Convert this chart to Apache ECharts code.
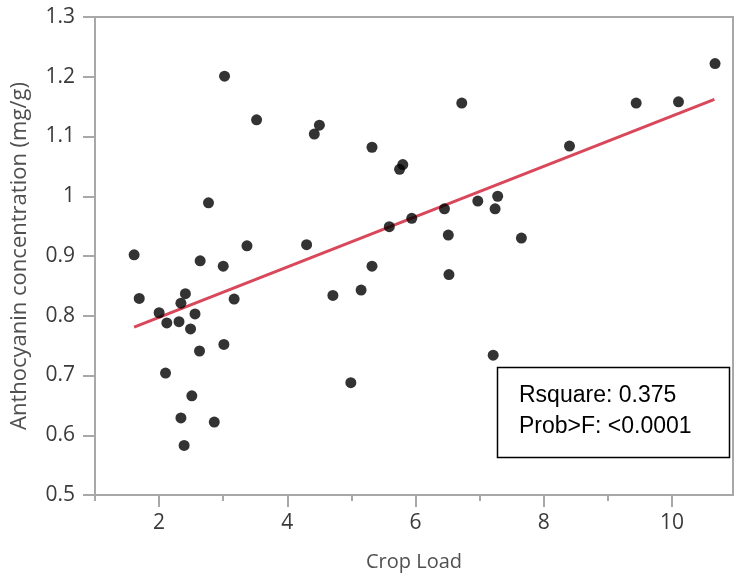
<!DOCTYPE html>
<html>
<head>
<meta charset="utf-8">
<script src="https://cdn.jsdelivr.net/npm/echarts@6/dist/echarts.min.js"></script>
<style>
html,body{margin:0;padding:0;background:#fff;}
#chart{width:734px;height:577px;}
</style>
</head>
<body>
<div id="chart"></div>
<script>
// Crop load (x) and anthocyanin concentration (y)
const cropLoad = [3.02,3.52,4.50,4.42,5.32,5.80,5.75,2.77,5.59,5.94,1.61,3.37,4.30,2.64,
  10.67,9.44,10.10,6.72,8.40,6.45,6.97,7.28,7.24,6.51,7.65,3.00,5.32,1.69,2.41,2.34,3.17,
  4.71,5.15,2.00,2.56,2.12,2.31,2.49,3.01,2.63,2.10,4.99,2.51,2.34,2.86,2.39,6.52,7.21];
const anthocyanin = [1.201,1.128,1.119,1.104,1.082,1.053,1.045,0.989,0.949,0.963,0.902,0.917,0.919,0.892,
  1.222,1.156,1.158,1.156,1.084,0.979,0.992,1.000,0.979,0.935,0.930,0.883,0.883,0.829,0.837,0.821,0.828,
  0.834,0.843,0.805,0.803,0.788,0.790,0.778,0.752,0.741,0.704,0.688,0.666,0.629,0.622,0.583,0.869,0.734];
// Fitted line end points
const fitX = [1.61, 10.66];
const fitY = [0.781, 1.162];
const xMajorTicks = [2, 4, 6, 8, 10];
const xMinorTicks = [1, 3, 5, 7, 9];
const statLines = ['Rsquare: 0.375', 'Prob>F: <0.0001'];

const points = cropLoad.map((x, i) => [x, anthocyanin[i]]);
const fitLine = fitX.map((x, i) => [x, fitY[i]]);

const axisGray = '#a8a8a8';
const labelColor = '#3a3a3a';
const font = 'Open Sans';

const chart = echarts.init(document.getElementById('chart'), null, {renderer: 'canvas'});
chart.setOption({
  animation: false,
  backgroundColor: '#fff',
  grid: {left: 95, right: 1, top: 17, bottom: 80, show: true, borderColor: axisGray, borderWidth: 2, containLabel: false},
  xAxis: [{
    type: 'value', min: 1, max: 10.95,
    name: 'Crop Load', nameLocation: 'middle', nameGap: 57,
    nameTextStyle: {fontFamily: font, fontSize: 20, color: '#505050'},
    axisLine: {show: true, lineStyle: {color: axisGray, width: 2}},
    axisTick: {show: true, customValues: xMajorTicks, length: 12, lineStyle: {color: axisGray, width: 2}},
    axisLabel: {customValues: xMajorTicks, margin: 18, fontFamily: font, fontSize: 21, color: labelColor},
    splitLine: {show: false}
  }, {
    type: 'value', min: 1, max: 10.95, position: 'bottom',
    axisLine: {show: false},
    axisTick: {show: true, customValues: xMinorTicks, length: 6, lineStyle: {color: axisGray, width: 2}},
    axisLabel: {show: false},
    splitLine: {show: false}
  }],
  yAxis: {
    type: 'value', min: 0.5, max: 1.3, interval: 0.1,
    name: 'Anthocyanin concentration (mg/g)', nameLocation: 'middle', nameGap: 64,
    nameTextStyle: {fontFamily: font, fontSize: 22, color: '#505050'},
    axisLine: {show: true, lineStyle: {color: axisGray, width: 2}},
    axisTick: {show: true, length: 12, lineStyle: {color: axisGray, width: 2}},
    axisLabel: {margin: 20, fontFamily: font, fontSize: 21, color: labelColor,
      formatter: v => String(Math.round(v * 10) / 10)},
    splitLine: {show: false}
  },
  series: [{
    type: 'line', data: fitLine, xAxisIndex: 0, symbol: 'none',
    lineStyle: {color: '#d9475a', width: 3}, z: 2
  }, {
    type: 'scatter', data: points, xAxisIndex: 0, symbol: 'circle', symbolSize: 11,
    itemStyle: {color: '#000'}, z: 3
  }],
  graphic: [{
    type: 'rect', shape: {x: 497.5, y: 367.5, width: 232, height: 90},
    style: {fill: '#fff', stroke: '#000', lineWidth: 1.5}, z: 10
  }, {
    type: 'text', x: 519, y: 396, z: 11,
    style: {text: statLines[0], font: '23px "Liberation Sans"', fill: '#000', verticalAlign: 'middle'}
  }, {
    type: 'text', x: 519, y: 427, z: 11,
    style: {text: statLines[1], font: '23px "Liberation Sans"', fill: '#000', verticalAlign: 'middle'}
  }]
});
</script>
</body>
</html>
